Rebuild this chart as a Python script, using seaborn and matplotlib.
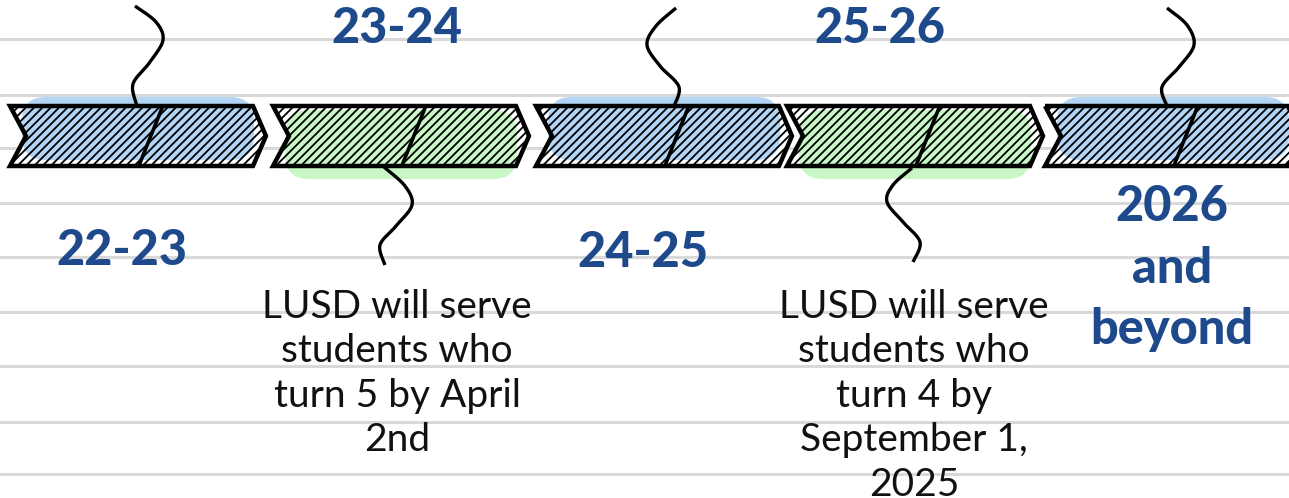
import numpy as np
import matplotlib
matplotlib.use("Agg")
import matplotlib.pyplot as plt
import seaborn as sns
from matplotlib.patches import Polygon, FancyBboxPatch

sns.set_theme(style="white")
plt.rcParams['font.family'] = ['Lato', 'DejaVu Sans']
plt.rcParams['hatch.linewidth'] = 1.3

# ---- data ----
periods = ["22-23", "23-24", "24-25", "25-26", "2026\nand\nbeyond"]
label_side = ["below", "above", "below", "above", "below"]
descriptions = ["", "LUSD will serve\nstudents who\nturn 5 by April\n2nd", "",
                "LUSD will serve\nstudents who\nturn 4 by\nSeptember 1,\n2025", ""]
seg_colors = ["#b3d5f5", "#c8f7c5", "#b3d5f5", "#c8f7c5", "#b3d5f5"]

# ---- layout ----
W, H = 1289, 498
fig = plt.figure(figsize=(W / 100, H / 100), dpi=100)
ax = fig.add_axes([0, 0, 1, 1])
ax.set_xlim(0, W)
ax.set_ylim(H, 0)
ax.axis("off")

# notebook lines
for y in [39, 95, 148, 203, 257, 312, 366, 422, 474]:
    ax.axhline(y, color="#d9d9d9", lw=2.2, zorder=0)

x0s = [10, 273, 536, 787, 1045]
seg_w = 256
top, bot = 106, 166
mid = (top + bot) / 2
tip, notch = 13, 16
label_color = "#1e4a8c"


def spline(pts, n=200):
    pts = np.asarray(pts, float)
    P = np.vstack([pts[0], pts, pts[-1]])
    out = []
    for i in range(1, len(P) - 2):
        p0, p1, p2, p3 = P[i - 1], P[i], P[i + 1], P[i + 2]
        t = np.linspace(0, 1, n // (len(pts) - 1))[:, None]
        out.append(0.5 * ((2 * p1) + (-p0 + p2) * t + (2 * p0 - 5 * p1 + 4 * p2 - p3) * t ** 2
                          + (-p0 + 3 * p1 - 3 * p2 + p3) * t ** 3))
    return np.vstack(out)


squiggles = [
    [(135, 6), (156, 22), (163, 40), (150, 62), (133, 84), (137, 106)],
    [(384, 167), (405, 186), (412, 205), (396, 226), (380, 245), (385, 265)],
    [(676, 8), (656, 26), (647, 45), (660, 66), (679, 87), (673, 108)],
    [(912, 168), (893, 185), (887, 202), (903, 222), (920, 242), (913, 262)],
    [(1167, 8), (1187, 25), (1194, 45), (1180, 66), (1162, 87), (1167, 106)],
]

for i, (x0, col) in enumerate(zip(x0s, seg_colors)):
    poly = [(x0, top), (x0 + seg_w - tip, top), (x0 + seg_w, mid),
            (x0 + seg_w - tip, bot), (x0, bot), (x0 + notch, mid)]
    # white base
    ax.add_patch(Polygon(poly, closed=True, facecolor="white", edgecolor="none", zorder=1))
    # rounded colored blob
    if i % 2 == 0:
        by0, by1 = 97, 160
    else:
        by0, by1 = 110, 179
    bx0, bx1 = x0 + 12, x0 + seg_w - 12
    ax.add_patch(FancyBboxPatch((bx0, by0), bx1 - bx0, by1 - by0,
                                boxstyle="round,pad=0,rounding_size=24",
                                facecolor=col, edgecolor="none", zorder=2))
    # hatched chevron
    ax.add_patch(Polygon(poly, closed=True, facecolor="none", edgecolor="black",
                         hatch="////", lw=0, zorder=3))
    ax.add_patch(Polygon(poly, closed=True, facecolor="none", edgecolor="black",
                         lw=3.2, joinstyle="miter", zorder=4))
    # thick inner stroke
    cx = x0 + seg_w * 0.55
    ax.plot([cx + 12, cx - 12], [top, bot], color="black", lw=2.6, zorder=4)
    # squiggle connector
    s = spline(squiggles[i])
    ax.plot(s[:, 0], s[:, 1], color="black", lw=2.4, solid_capstyle="butt", zorder=5)

# period labels
label_pos = [(122, 250), (397, 28), (643, 252), (880, 28), (1172, 268)]
for lab, (lx, ly) in zip(periods, label_pos):
    ax.text(lx, ly, lab, ha="center", va="center", fontsize=35, fontweight="black",
            color=label_color, linespacing=1.45, zorder=6)

# descriptions
desc_x = [0, 397, 0, 914, 0]
for d, dx in zip(descriptions, desc_x):
    if d:
        ax.text(dx, 289, d, ha="center", va="top", fontsize=28, color="#111111",
                linespacing=1.29, zorder=6)

fig.savefig("out.png", dpi=100)
